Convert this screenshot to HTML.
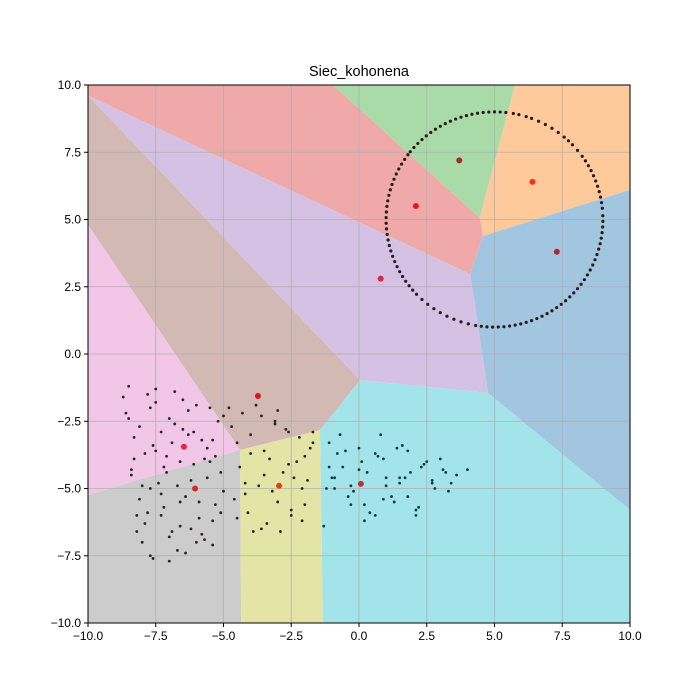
<!DOCTYPE html>
<html><head><meta charset="utf-8"><style>
body{margin:0;background:#fff}
svg{display:block;font-family:"Liberation Sans",sans-serif}
</style></head><body>
<svg id="chart" width="700" height="700">
<rect width="700" height="700" fill="#fff"/>
<text x="359" y="76" text-anchor="middle" font-size="14.5">Siec_kohonena</text>
<g id="regions"></g>
<g id="grid"></g>
<g id="pts"></g>
<g id="neu"></g>
<rect x="88" y="85" width="542" height="538" fill="none" stroke="#000" stroke-width="1"/>
<g id="axes"></g>
</svg>
<script>
const ticks=[-10,-7.5,-5,-2.5,0,2.5,5,7.5,10];
const tickLabels=["−10.0","−7.5","−5.0","−2.5","0.0","2.5","5.0","7.5","10.0"];
const regionNames=["red","green","orange","blue","purple","brown","pink","gray","yellow","cyan"];
const regionColors=["#efa9a9","#a9dba8","#ffca9b","#a3c6e0","#d4c1e4","#d2b9b4","#f2c6e6","#cccccc","#e5e4a7","#a3e4ea"];
const regionPolys=[
[[-10,10],[-0.96,10],[4.46,5.06],[4.58,4.39],[4.1,2.97],[-10,9.6]],
[[-0.96,10],[5.76,10],[4.46,5.06]],
[[5.76,10],[10,10],[10,6.1],[4.58,4.39],[4.46,5.06]],
[[10,6.1],[10,-5.8],[4.76,-1.45],[4.1,2.97],[4.58,4.39]],
[[-10,9.6],[4.1,2.97],[4.76,-1.45],[0.04,-0.97]],
[[-10,9.6],[0.04,-0.97],[-1.44,-2.83],[-4.39,-3.57],[-10,4.8]],
[[-10,4.8],[-4.39,-3.57],[-10,-5.24]],
[[-10,-5.24],[-4.39,-3.57],[-4.35,-10],[-10,-10]],
[[-4.39,-3.57],[-1.44,-2.83],[-1.33,-10],[-4.35,-10]],
[[0.04,-0.97],[4.76,-1.45],[10,-5.8],[10,-10],[-1.33,-10],[-1.44,-2.83]]
];
const circleCenter=[5,5];
const circleRadius=4;
const circleAngles=[2,6,9,12,15,18,21,24,27,30,33,36,40,44,47,50,54,58,62,66,70,73,77,80,84,87,90,93,96,99,102,105,108,111,114,117,120,123,126,129,132,135,138,141,143,146,149,152,155,158,161,164,167,170,173,176,179,182,185,188,191,194,197,200,203,206,209,212,215,218,221,224,228,232,236,240,244,248,252,256,260,263,266,269,272,275,278,281,284,287,290,293,296,299,302,305,308,311,314,317,320,323,326,329,332,335,338,341,344,347,350,353,356,359];
const clusterX=[-8.7,-8.5,-8.3,-8.1,-7.9,-7.7,-7.5,-7.3,-7.1,-6.9,-6.7,-6.5,-6.3,-6.1,-5.9,-5.7,-5.5,-5.3,-5.1,-8.6,-8.4,-8.2,-8.0,-7.8,-7.6,-7.4,-7.2,-7.0,-6.8,-6.6,-6.4,-6.2,-6.0,-5.8,-5.6,-5.4,-5.2,-5.0,-8.5,-8.3,-8.0,-7.7,-7.5,-7.3,-7.0,-6.8,-6.5,-6.2,-5.9,-5.6,-5.3,-5.0,-8.4,-8.1,-7.8,-7.5,-7.2,-6.9,-6.6,-6.3,-6.0,-5.7,-5.4,-5.1,-7.9,-7.6,-7.3,-7.0,-6.7,-6.4,-6.1,-5.8,-5.5,-8.2,-7.7,-7.1,-6.6,-6.0,-5.4,
-4.8,-4.5,-4.2,-3.9,-3.6,-3.3,-3.0,-2.7,-2.4,-2.1,-1.8,-4.7,-4.4,-4.1,-3.8,-3.5,-3.2,-2.9,-2.6,-2.3,-2.0,-1.7,-4.6,-4.3,-4.0,-3.7,-3.4,-3.1,-2.8,-2.5,-2.2,-1.9,-4.5,-4.0,-3.5,-3.0,-2.5,-2.0,-4.2,-3.6,-3.1,-2.6,-2.1,-1.7,
-1.3,-1.1,-0.9,-0.6,-0.3,0.0,0.3,0.6,0.9,1.2,1.5,1.8,2.1,2.4,2.7,3.0,3.3,3.6,4.0,-1.2,-0.9,-0.5,-0.2,0.1,0.4,0.7,1.0,1.3,1.6,1.9,2.2,2.5,2.8,3.1,3.4,-1.1,-0.7,-0.3,0.2,0.6,1.0,1.4,1.8,2.3,2.7,3.2,-1.0,-0.4,0.2,0.8,1.5,2.1,-0.8,0.0,0.9,1.7];
const clusterY=[-1.6,-2.4,-3.9,-5.4,-6.3,-7.5,-1.3,-2.9,-4.4,-6.6,-7.3,-1.7,-3.0,-4.1,-5.5,-6.9,-2.0,-3.8,-5.9,-2.2,-4.3,-6.0,-7.0,-1.5,-3.4,-4.8,-5.7,-7.7,-2.6,-4.0,-5.3,-6.5,-1.9,-3.2,-4.6,-6.2,-2.5,-5.1,-1.2,-3.1,-4.9,-2.0,-3.6,-5.2,-6.8,-1.4,-2.8,-4.7,-6.1,-3.5,-5.6,-2.3,-4.5,-2.7,-5.9,-1.8,-4.2,-3.3,-6.4,-2.1,-5.0,-3.9,-7.1,-4.4,-3.7,-7.6,-6.0,-2.4,-4.9,-7.4,-2.9,-6.7,-4.0,-6.6,-5.0,-3.8,-5.5,-7.0,-3.2,
-2.0,-3.3,-4.8,-6.6,-2.3,-3.9,-5.5,-2.8,-4.6,-6.2,-3.5,-2.7,-4.2,-5.9,-1.9,-3.6,-5.1,-6.6,-2.9,-4.0,-5.6,-3.3,-5.4,-2.2,-3.7,-4.9,-6.3,-2.5,-4.4,-5.8,-3.1,-4.7,-6.1,-3.0,-4.5,-2.1,-6.0,-3.8,-5.2,-6.5,-2.6,-4.1,-5.0,-2.9,-6.4,
-3.3,-5.0,-4.2,-5.6,-3.5,-4.4,-6.0,-3.9,-5.3,-4.6,-3.6,-5.8,-4.1,-4.7,-3.9,-5.1,-4.5,-4.3,-5.0,-4.6,-3.6,-5.1,-4.0,-5.9,-3.8,-4.9,-5.5,-3.4,-4.4,-5.7,-4.0,-5.0,-4.3,-4.8,-4.2,-3.0,-4.9,-6.2,-3.7,-4.6,-3.5,-5.3,-4.2,-4.8,-4.4,-4.6,-5.3,-5.6,-3.0,-4.8,-6.0,-3.7,-4.3,-5.4,-4.6,-4.3];
const neuronX=[3.7,6.4,2.1,7.3,0.8,-3.73,-6.46,-6.05,-2.95,0.07];
const neuronY=[7.2,6.4,5.5,3.8,2.8,-1.56,-3.45,-5.0,-4.9,-4.83];
const neuronColors=["#a0301a","#ff3010","#ee1515","#a82838","#d82848","#d81818","#f02040","#d82828","#e04010","#c03030"];

const X0=88,X1=630,Y0=623,Y1=85;
const sx=v=>X0+(v+10)/20*(X1-X0);
const sy=v=>Y0-(v+10)/20*(Y0-Y1);
const NS="http://www.w3.org/2000/svg";
function mk(t,p,parent){const e=document.createElementNS(NS,t);for(const k in p)e.setAttribute(k,p[k]);parent.appendChild(e);return e;}
const R=document.getElementById('regions');
regionPolys.forEach((poly,i)=>{
 const e=mk('polygon',{points:poly.map(p=>sx(p[0])+','+sy(p[1])).join(' '),fill:regionColors[i]},R);
 
 
});
const G=document.getElementById('grid'),A=document.getElementById('axes');
ticks.forEach((t,i)=>{
 const g1=mk('line',{x1:sx(t),x2:sx(t),y1:Y1,y2:Y0,stroke:'#b0b0b0','stroke-width':0.8},G);
 
 
 const g2=mk('line',{x1:X0,x2:X1,y1:sy(t),y2:sy(t),stroke:'#b0b0b0','stroke-width':0.8},G);
 
 
 mk('line',{x1:sx(t),x2:sx(t),y1:Y0,y2:Y0+4,stroke:'#000'},A);
 mk('line',{x1:X0-4,x2:X0,y1:sy(t),y2:sy(t),stroke:'#000'},A);
 const tx=mk('text',{x:sx(t),y:Y0+17,'text-anchor':'middle','font-size':12},A);
 tx.textContent=tickLabels[i];
 
 
 const ty=mk('text',{x:X0-7,y:sy(t)+4,'text-anchor':'end','font-size':12},A);
 ty.textContent=tickLabels[i];
 
 
});
const P=document.getElementById('pts');
circleAngles.forEach(a=>{
 const r=a*Math.PI/180;
 const c=mk('circle',{cx:sx(circleCenter[0]+circleRadius*Math.cos(r)),cy:sy(circleCenter[1]+circleRadius*Math.sin(r)),r:1.6,fill:'#2a1a1a'},P);
 
 
});
clusterX.forEach((x,i)=>{
 const c=mk('circle',{cx:sx(x),cy:sy(clusterY[i]),r:1.4,fill:x>-1.5?'#103a40':'#2a2228'},P);
 
 
});
const N=document.getElementById('neu');
neuronX.forEach((x,i)=>{
 const c=mk('circle',{cx:sx(x),cy:sy(neuronY[i]),r:3,fill:neuronColors[i]},N);
 
 
});
</script>
</body></html>
